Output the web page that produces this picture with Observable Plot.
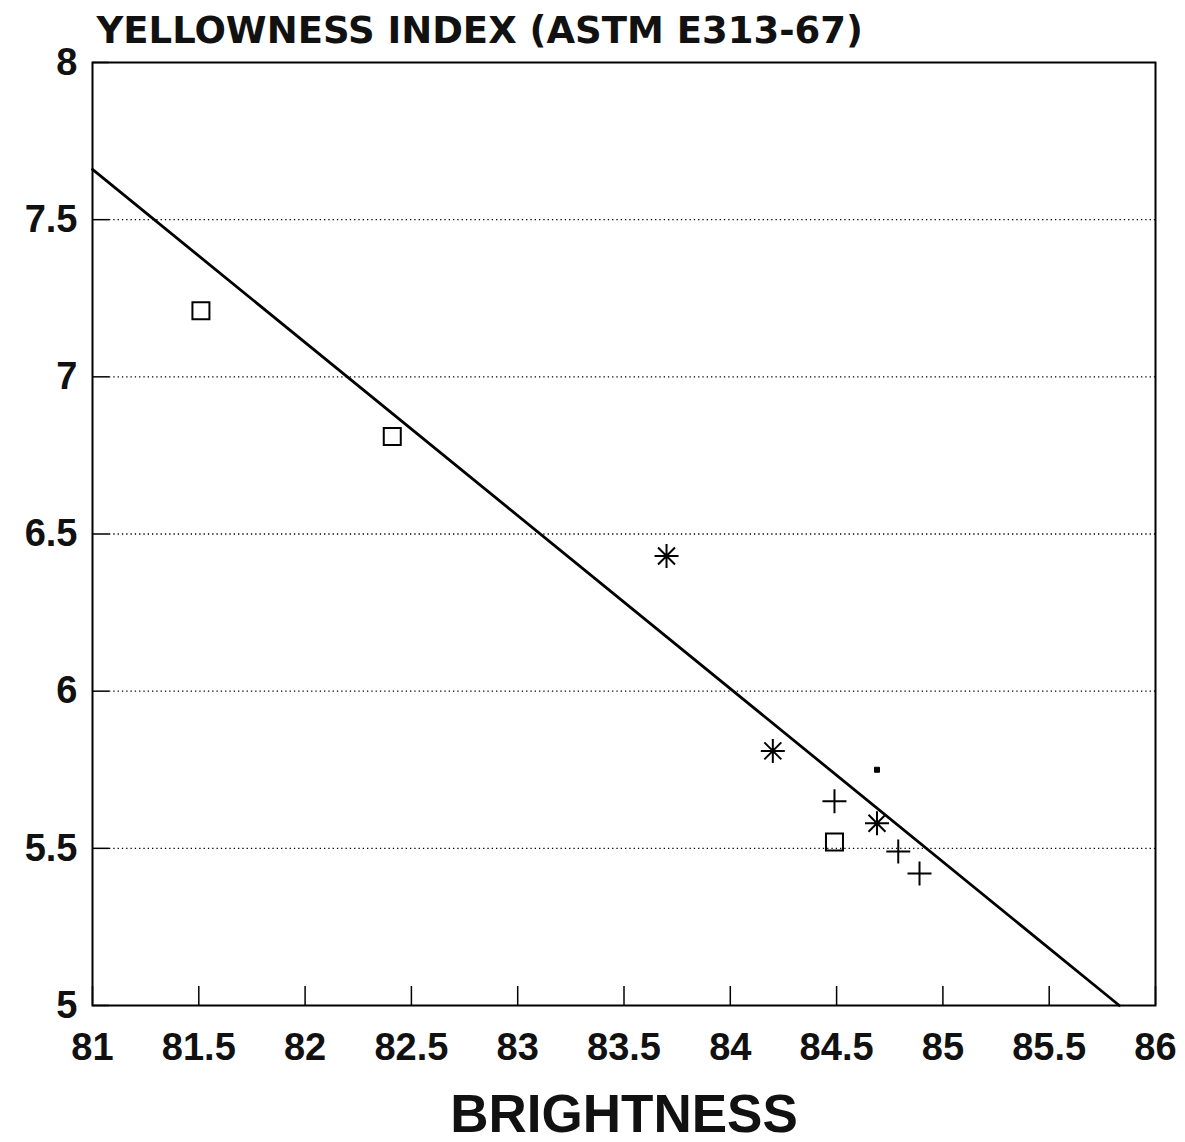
<!DOCTYPE html>
<html>
<head>
<meta charset="utf-8">
<script src="https://cdn.jsdelivr.net/npm/d3@7"></script>
<script src="https://cdn.jsdelivr.net/npm/@observablehq/plot@0.6"></script>
<style>
  html, body { margin: 0; padding: 0; background: #fff; }
</style>
</head>
<body>
<div id="chart"></div>
<script>
// ---- data ----
const xTicks = [81, 81.5, 82, 82.5, 83, 83.5, 84, 84.5, 85, 85.5, 86];
const yTicks = [5, 5.5, 6, 6.5, 7, 7.5, 8];
const gridY = [5.5, 6, 6.5, 7, 7.5];

const squareX = [81.51, 82.41, 84.49];
const squareY = [7.21, 6.81, 5.52];

const starX = [83.70, 84.20, 84.69];
const starY = [6.43, 5.81, 5.58];

const plusX = [84.49, 84.79, 84.89];
const plusY = [5.65, 5.49, 5.42];

const smallX = [84.69];
const smallY = [5.75];

const fitX = [81, 85.83];
const fitY = [7.66, 5.0];

const titleText = "YELLOWNESS INDEX (ASTM E313-67)";
const xLabel = "BRIGHTNESS";

// ---- tables built from the arrays ----
const squares = squareX.map((x, i) => ({x, y: squareY[i]}));
const stars = starX.map((x, i) => ({x, y: starY[i]}));
const pluses = plusX.map((x, i) => ({x, y: plusY[i]}));
const smalls = smallX.map((x, i) => ({x, y: smallY[i]}));
const fit = fitX.map((x, i) => ({x, y: fitY[i]}));

// ---- custom line-drawn symbols ----
const rad = size => Math.sqrt(size / Math.PI);
const openSquare = {draw(ctx, size) { const r = rad(size); ctx.moveTo(-r, -r); ctx.lineTo(r, -r); ctx.lineTo(r, r); ctx.lineTo(-r, r); ctx.closePath(); }};
const thinPlus = {draw(ctx, size) { const r = rad(size); ctx.moveTo(-r, 0); ctx.lineTo(r, 0); ctx.moveTo(0, -r); ctx.lineTo(0, r); }};
const star8 = {draw(ctx, size) {
  const r = rad(size);
  for (let k = 0; k < 4; k++) {
    const a = k * Math.PI / 4;
    const c = Math.cos(a) * r, s = Math.sin(a) * r;
    ctx.moveTo(-c, -s); ctx.lineTo(c, s);
  }
}};

const W = 1185, H = 1142;
const mL = 92, mR = 30, mT = 62, mB = 137;
const plotW = W - mL - mR, plotH = H - mT - mB;

const chart = Plot.plot({
  width: W,
  height: H,
  marginLeft: mL,
  marginRight: mR,
  marginTop: mT,
  marginBottom: mB,
  style: {fontFamily: "'Liberation Sans', Arial, Helvetica, sans-serif", background: "#fff", color: "#000"},
  x: {domain: [81, 86], label: null},
  y: {domain: [5, 8], label: null},
  marks: [
    Plot.ruleY(gridY, {stroke: "#000", strokeWidth: 1.3, strokeDasharray: "1.3,3", insetLeft: 17}),
    Plot.ruleX(xTicks, {stroke: "#000", strokeWidth: 1.5, insetTop: plotH - 19}),
    Plot.ruleY(yTicks, {stroke: "#000", strokeWidth: 1.5, insetRight: plotW - 17}),
    Plot.frame({stroke: "#000", strokeWidth: 2}),
    Plot.axisX(xTicks, {tickSize: 0, tickPadding: 28, fontSize: 38, fontWeight: "bold", tickFormat: d => String(d), fill: "#111"}),
    Plot.axisY(yTicks, {tickSize: 0, tickPadding: 15, fontSize: 38, fontWeight: "bold", tickFormat: d => String(d), fill: "#111"}),
    Plot.line(fit, {x: "x", y: "y", stroke: "#000", strokeWidth: 2.8}),
    Plot.dot(squares, {x: "x", y: "y", symbol: openSquare, r: 8.5, stroke: "#000", fill: "none", strokeWidth: 2}),
    Plot.dot(stars, {x: "x", y: "y", symbol: star8, r: 12, stroke: "#000", fill: "none", strokeWidth: 2}),
    Plot.dot(pluses, {x: "x", y: "y", symbol: thinPlus, r: 12, stroke: "#000", fill: "none", strokeWidth: 2}),
    Plot.dot(smalls, {x: "x", y: "y", symbol: openSquare, r: 2.5, stroke: "#000", fill: "#000", strokeWidth: 1}),
    Plot.text([titleText], {frameAnchor: "top-left", textAnchor: "start", lineAnchor: "bottom", dx: 4, dy: -20, fontSize: 37, fontWeight: "bold", fontFamily: "'DejaVu Sans', sans-serif", fill: "#111", text: d => d}),
    Plot.text([xLabel], {frameAnchor: "bottom", textAnchor: "middle", lineAnchor: "bottom", dy: 126, fontSize: 53, fontWeight: "bold", fill: "#111", text: d => d})
  ]
});
document.getElementById("chart").appendChild(chart);
</script>
</body>
</html>
